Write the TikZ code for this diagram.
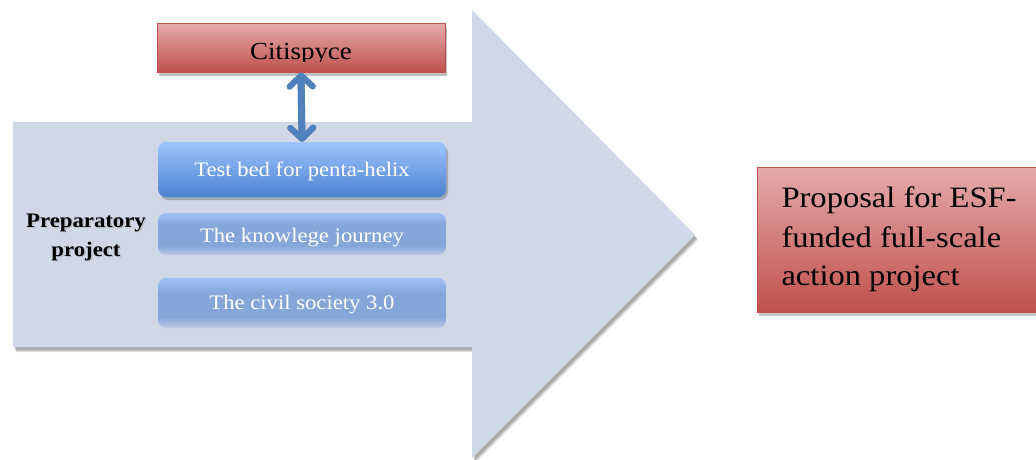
\documentclass[tikz,border=0pt]{standalone}
\usepackage{fontspec}
\setmainfont[FakeStretch=1.1]{Liberation Serif}
\usetikzlibrary{arrows.meta,calc}
\definecolor{arrowfill}{HTML}{D0D8E7}
\definecolor{redtop}{HTML}{E4ABAA}
\definecolor{redbot}{HTML}{C0504D}
\definecolor{bluetop}{HTML}{9EC4FF}
\definecolor{bluebot}{HTML}{4A82CF}
\definecolor{fadetop}{HTML}{A0C0F8}
\definecolor{fademid}{HTML}{86A6D9}
\definecolor{fadebot}{HTML}{BFCBE5}
\definecolor{linkblue}{HTML}{4F81BD}
% light-blue band that dissolves into the arrow colour at its lower edge
\pgfdeclareverticalshading{fadeblue}{100bp}{%
  color(0bp)=(fadebot); color(25bp)=(fadebot); color(36bp)=(fademid);
  color(60bp)=(fademid); color(75bp)=(fadetop); color(100bp)=(fadetop)}
\tikzset{
  redbox/.style={draw=redbot, line width=1pt, top color=redtop, bottom color=redbot,
    inner sep=0pt, minimum width=#1},
  bluebox/.style={rounded corners=8pt, inner sep=0pt, minimum width=288pt,
    top color=bluetop, bottom color=bluebot},
  fadebox/.style={rounded corners=8pt, inner sep=0pt, minimum width=288pt,
    shading=fadeblue},
  boxshadow/.style={fill=black, opacity=0.22},
  whitetext/.style={text=white, font=\fontsize{20.6}{24}\selectfont, anchor=base},
  linktip/.style={{Straight Barb[length=11pt,width=23pt,line width=6pt,line cap=round,line join=round]}-{Straight Barb[length=11pt,width=23pt,line width=6pt,line cap=round,line join=round]}}
}
\begin{document}
\begin{tikzpicture}[x=1pt,y=-1pt]
\useasboundingbox (0,0) rectangle (1036,459);
\fill[white] (0,0) rectangle (1036,459);

% large process arrow, with a soft shadow underneath
\foreach \d/\o in {5/0.10,4/0.12,3/0.14} {
  \fill[black, opacity=\o, shift={(\d*0.6,\d)}]
    (13,122) -- (472,122) -- (472,10) -- (695,235) -- (472,458) -- (472,347) -- (13,347) -- cycle;
}
\fill[arrowfill]
  (13,122) -- (472,122) -- (472,10) -- (695,235) -- (472,458) -- (472,347) -- (13,347) -- cycle;

% Citispyce box
\fill[black!25] (159,27) rectangle (447,76);
\node[redbox=288pt, minimum height=49pt] (cit) at (301,47.5) {};
\begin{scope}
  \clip (157,23) rectangle (445,61.5);
  \node[anchor=base, font=\fontsize{24.5}{28}\selectfont] (cittext) at (301,59) {Citispyce};
\end{scope}

% inner task boxes
\fill[boxshadow, rounded corners=8pt] (160,145) rectangle (448,200);
\node[bluebox, minimum height=55pt] (tb) at (302,169.5) {};
\node[whitetext] (tbtext) at (302,176) {Test bed for penta-helix};

\node[fadebox, minimum height=42pt] (kj) at (302,234) {};
\node[whitetext] (kjtext) at (302,242) {The knowlege journey};

\node[fadebox, minimum height=50pt] (cs) at (302,303) {};
\node[whitetext] (cstext) at (302,309) {The civil society 3.0};

% label of the preparatory phase
\node[align=center, font=\bfseries\fontsize{20.7}{29}\selectfont, text=black!35, opacity=0.5] at (87.5,238.5) {Preparatory\\project};
\node[align=center, font=\bfseries\fontsize{20.7}{29}\selectfont] (prep) at (86,237) {Preparatory\\project};

% two-way link between Citispyce and the test bed
\draw[linktip, line width=7pt, black!45, shift={(2,3)}] (cit.south) -- (tb.north);
\draw[linktip, line width=7pt, linkblue] (cit.south) -- (tb.north);

% resulting proposal
\fill[black!22] (759,171) rectangle (1040,316);
\node[redbox=283pt, minimum height=145pt] (prop) at (898.5,239.5) {};
\node[anchor=base west, font=\fontsize{29.6}{40}\selectfont] (proptext) at (778,207) {Proposal for ESF-};
\node[anchor=base west, font=\fontsize{29.6}{40}\selectfont] at (778,247) {funded full-scale};
\node[anchor=base west, font=\fontsize{29.6}{40}\selectfont] at (778,285) {action project};
\end{tikzpicture}
\end{document}
